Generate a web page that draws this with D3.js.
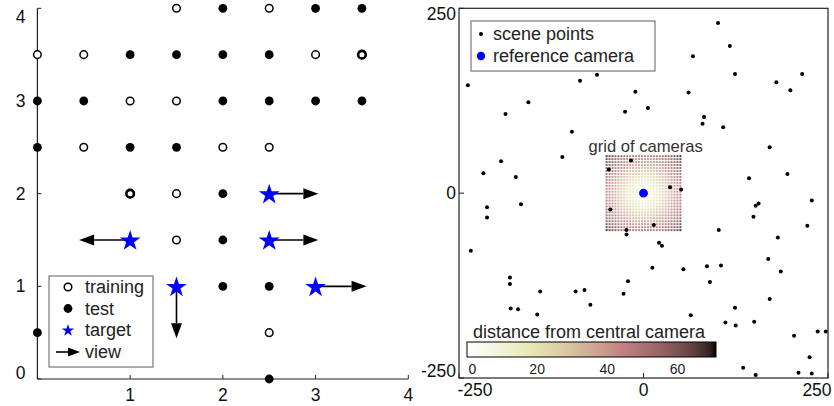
<!DOCTYPE html>
<html><head><meta charset="utf-8">
<script src="https://cdn.jsdelivr.net/npm/d3@7"></script>
<style>
html,body{margin:0;padding:0;background:#fff;}
svg{display:block;font-family:"Liberation Sans",Arial,Helvetica,sans-serif;}
</style></head>
<body><svg id="c" width="834" height="406"></svg>
<script>
// ---------- Left panel data ----------
const leftXTicks = [1, 2, 3, 4];
const leftYTicks = [0, 1, 2, 3, 4];
const trainingPts = [[1.5,4],[2.5,4],[0,3.5],[0.5,3.5],[3,3.5],[3.5,3.5],[1,3],[1.5,3],[0.5,2.5],[2,2.5],[2.5,2.5],[1,2],[1.5,2],[1.5,1.5],[2.5,0.5]];
const trainingBold = [[3.5,3.5],[1,2]];
const testPts = [[2,4],[3,4],[3.5,4],[1,3.5],[1.5,3.5],[2,3.5],[2.5,3.5],[0,3],[0.5,3],[2,3],[2.5,3],[3,3],[3.5,3],[0,2.5],[1,2.5],[1.5,2.5],[2,2],[2,1.5],[2,1],[2.5,1],[0,0.5],[2.5,0]];
const targetPts = [[2.5,2],[1,1.5],[2.5,1.5],[1.5,1],[3,1]];
const viewTips  = [[3.03,2],[0.45,1.5],[3.03,1.5],[1.5,0.44],[3.55,1]];
const leftLegend = ["training","test","target","view"];

// ---------- Right panel data ----------
const rightTicks = [-250, 0, 250];
const scenePts = [[-238,146],[-217,27],[-193,43],[-187,107],[-173,22],[-156,123],[-110,49],[-97,83],[-86,152],[-63,160],
[-47,32],[-25,110],[-17,44],[-11,137],[6,115],[36,8],[51,5],[61,136],[67,185],[80,94],[82,103],[101,230],[108,89],[117,199],
[124,161],[143,20],[171,62],[180,150],[195,26],[199,139],[215,161],[228,-10],[-212,-19],[-212,-33],[-166,-15],[-234,-78],
[-45,-22],[-23,-50],[-23,-56],[14,-43],[21,-67],[25,-71],[12,-101],[54,-103],[86,-99],[105,-98],[90,-120],[102,-50],
[149,-32],[152,-17],[156,-14],[182,-60],[169,-89],[186,-106],[222,-44],[-181,-114],[-181,-123],[-140,-133],[-92,-133],
[-80,-131],[-21,-119],[-27,-136],[-72,-151],[-180,-156],[-170,-157],[-144,-164],[64,-165],[124,-155],[171,-143],[111,-175],
[125,-179],[150,-174],[204,-193],[236,-187],[247,-187],[225,-222],[135,-236],[152,-246],[210,-243],[228,-244]];
const refCamera = [0, 0];
const gridHalf = 50, gridStep = 4;
const cbTicks = [0, 20, 40, 60];
const cbMax = 71;
const rightLegend = ["scene points", "reference camera"];

// ---------- helpers ----------
const svg = d3.select("#c");
const F = 17.5;
function pinkR(d){
  const t = Math.max(0, Math.min(1, 1 - d / cbMax));
  const cl = v => Math.max(0, Math.min(1, v));
  const hr = cl(t/0.375), hg = cl((t-0.375)/0.375), hb = cl((t-0.75)/0.25);
  const f = h => Math.round(255*Math.sqrt((2*t + h)/3));
  return d3.rgb(f(hr), f(hg), f(hb)).toString();
}
const starSym = s => d3.symbol(d3.symbolStar).size(s)();
function arrow(g, x1, y1, x2, y2, hl, hw){
  const dx = x2-x1, dy = y2-y1, L = Math.hypot(dx,dy), ux = dx/L, uy = dy/L;
  const bx = x2-ux*hl, by = y2-uy*hl;
  g.append("line").attr("x1",x1).attr("y1",y1).attr("x2",bx).attr("y2",by)
    .attr("stroke","#000").attr("stroke-width",1.6);
  g.append("path").attr("d",`M${x2},${y2}L${bx-uy*hw},${by+ux*hw}L${bx+uy*hw},${by-ux*hw}Z`).attr("fill","#000");
}

// ================= LEFT PANEL =================
const xL = d3.scaleLinear([0,4],[37.4,408.3]);
const yL = d3.scaleLinear([0,4],[379,8.3]);
const gL = svg.append("g");
gL.append("line").attr("x1",xL(0)).attr("x2",xL(0)).attr("y1",yL(0)).attr("y2",yL(4)).attr("stroke","#222").attr("stroke-width",1.2);
gL.append("line").attr("x1",xL(0)).attr("x2",xL(4)).attr("y1",yL(0)).attr("y2",yL(0)).attr("stroke","#222").attr("stroke-width",1.2);
leftXTicks.forEach(v=>{
  gL.append("line").attr("x1",xL(v)).attr("x2",xL(v)).attr("y1",yL(0)).attr("y2",yL(0)-4).attr("stroke","#222");
  gL.append("text").attr("x",xL(v)).attr("y",yL(0)+22).attr("text-anchor","middle").attr("font-size",F).attr("fill","#111").text(v);
});
leftYTicks.forEach(v=>{
  gL.append("line").attr("x1",xL(0)).attr("x2",xL(0)+4).attr("y1",yL(v)).attr("y2",yL(v)).attr("stroke","#222");
  const dy = v===4 ? 9 : (v===0 ? -6 : 0);
  gL.append("text").attr("x",xL(0)-12).attr("y",yL(v)+6+dy).attr("text-anchor","end").attr("font-size",F).attr("fill","#111").text(v);
});
targetPts.forEach((p,i)=>arrow(gL, xL(p[0]), yL(p[1]), xL(viewTips[i][0]), yL(viewTips[i][1]), 15, 5.5));
gL.selectAll(".tr").data(trainingPts).join("circle").attr("cx",d=>xL(d[0])).attr("cy",d=>yL(d[1])).attr("r",3.8)
  .attr("fill","#fff").attr("stroke","#000").attr("stroke-width",1.5);
gL.selectAll(".trb").data(trainingBold).join("circle").attr("cx",d=>xL(d[0])).attr("cy",d=>yL(d[1])).attr("r",3.8)
  .attr("fill","#fff").attr("stroke","#000").attr("stroke-width",2.6);
gL.selectAll(".te").data(testPts).join("circle").attr("cx",d=>xL(d[0])).attr("cy",d=>yL(d[1])).attr("r",4.4).attr("fill","#000");
gL.selectAll(".st").data(targetPts).join("path").attr("d",starSym(134))
  .attr("transform",d=>`translate(${xL(d[0])},${yL(d[1])+1})`).attr("fill","#0000ff");
const lg = gL.append("g");
lg.append("rect").attr("x",49).attr("y",276).attr("width",104).attr("height",91).attr("fill","#fff").attr("stroke","#777").attr("stroke-width",1.2);
const lrows = [287, 308.5, 330, 352];
lg.append("circle").attr("cx",68).attr("cy",lrows[0]).attr("r",3.8).attr("fill","#fff").attr("stroke","#000").attr("stroke-width",1.5);
lg.append("circle").attr("cx",68).attr("cy",lrows[1]).attr("r",4.4).attr("fill","#000");
lg.append("path").attr("d",starSym(48)).attr("transform",`translate(68,${lrows[2]+0.5})`).attr("fill","#0000ff");
arrow(lg, 56, lrows[3], 80, lrows[3], 12, 4.5);
leftLegend.forEach((t,i)=>lg.append("text").attr("x",85).attr("y",lrows[i]+6).attr("font-size",18).attr("fill","#222").text(t));

// ================= RIGHT PANEL =================
const xR = d3.scaleLinear([-250,250],[459,828]);
const yR = d3.scaleLinear([-250,250],[378,8.3]);
const gR = svg.append("g");
const gv = d3.range(-gridHalf, gridHalf + 0.001, gridStep);
const cells = [];
gv.forEach(a=>gv.forEach(b=>cells.push([a,b])));
const cw = 2.0;
gR.selectAll(".cell").data(cells).join("rect")
  .attr("x",d=>xR(d[0])-cw/2).attr("y",d=>yR(d[1])-cw/2).attr("width",cw).attr("height",cw)
  .attr("fill",d=>pinkR(Math.hypot(d[0],d[1]))).attr("fill-opacity",0.8);
gR.append("text").attr("x",xR(3)).attr("y",yR(64)+6).attr("text-anchor","middle").attr("font-size",16.6).attr("fill","#333").text("grid of cameras");
gR.selectAll(".sp").data(scenePts).join("circle").attr("cx",d=>xR(d[0])).attr("cy",d=>yR(d[1])).attr("r",2).attr("fill","#000");
gR.append("circle").attr("cx",xR(refCamera[0])).attr("cy",yR(refCamera[1])).attr("r",4.4).attr("fill","#0000ff");
const cb = d3.scaleLinear([0,cbMax],[467,716]);
gR.append("rect").attr("x",463).attr("y",321).attr("width",257).attr("height",52).attr("fill","#fff");
const defs = svg.append("defs");
const lgd = defs.append("linearGradient").attr("id","pk").attr("x1","0%").attr("x2","100%");
d3.range(0, cbMax+0.01, cbMax/40).forEach(v=>lgd.append("stop").attr("offset",(v/cbMax*100)+"%").attr("stop-color",pinkR(v)));
gR.append("text").attr("x",473).attr("y",338).attr("font-size",18).attr("fill","#222").text("distance from central camera");
gR.append("rect").attr("x",cb(0)).attr("y",342).attr("width",cb(cbMax)-cb(0)).attr("height",15).attr("fill","url(#pk)").attr("stroke","#000").attr("stroke-width",1);
cbTicks.forEach(v=>{
  gR.append("text").attr("x",cb(v)+(v===0?5.5:0)).attr("y",374).attr("text-anchor","middle").attr("font-size",14).attr("fill","#222").text(v);
});
gR.append("rect").attr("x",xR(-250)).attr("y",yR(250)).attr("width",xR(250)-xR(-250)).attr("height",yR(-250)-yR(250))
  .attr("fill","none").attr("stroke","#222").attr("stroke-width",1.2);
rightTicks.forEach(v=>{
  gR.append("line").attr("x1",xR(v)).attr("x2",xR(v)).attr("y1",yR(-250)).attr("y2",yR(-250)-5).attr("stroke","#222");
  gR.append("line").attr("x1",xR(-250)).attr("x2",xR(-250)+5).attr("y1",yR(v)).attr("y2",yR(v)).attr("stroke","#222");
  const dx = v===-250 ? 16 : (v===250 ? -11 : 0);
  gR.append("text").attr("x",xR(v)+dx).attr("y",yR(-250)+18).attr("text-anchor","middle").attr("font-size",F).attr("fill","#111").text(v);
  const dy = v===250 ? 6 : (v===-250 ? -7 : 0);
  gR.append("text").attr("x",xR(-250)-3).attr("y",yR(v)+6+dy).attr("text-anchor","end").attr("font-size",F).attr("fill","#111").text(v);
});
const rg = gR.append("g");
rg.append("rect").attr("x",471).attr("y",21).attr("width",184).attr("height",50).attr("fill","#fff").attr("stroke","#777").attr("stroke-width",1.2);
rg.append("circle").attr("cx",481).attr("cy",34).attr("r",2).attr("fill","#000");
rg.append("circle").attr("cx",481).attr("cy",56).attr("r",4.2).attr("fill","#0000ff");
rightLegend.forEach((t,i)=>rg.append("text").attr("x",493).attr("y",[34,56][i]+6).attr("font-size",18).attr("fill","#222").text(t));
</script></body></html>
